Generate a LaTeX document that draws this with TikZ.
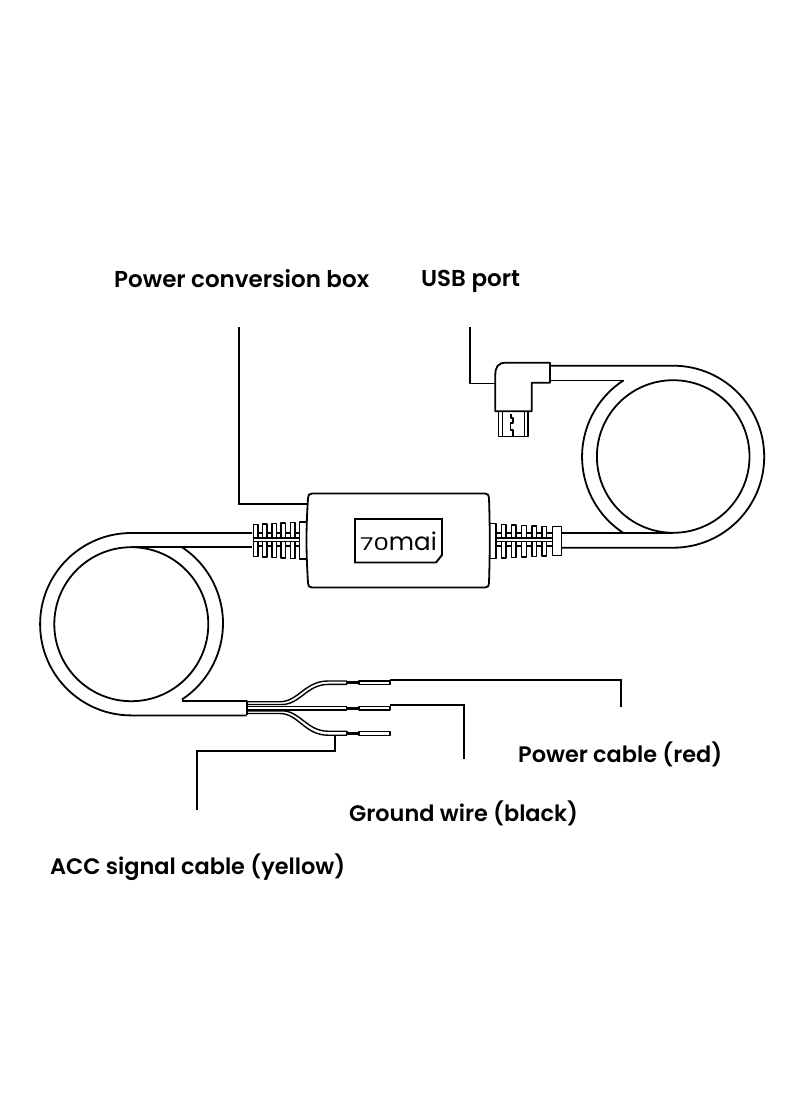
\documentclass[tikz,border=0pt]{standalone}
\usepackage{fontspec}
\setmainfont{Poppins}
\newfontfamily\lblf{Poppins SemiBold}
\tikzset{
 ln/.style={line width=1.8pt,black,line join=round},
 tl/.style={line width=1.4pt,black,line join=round},
 lead/.style={line width=1.6pt,black},
 lbl/.style={inner sep=0pt,anchor=base west,font=\fontsize{22.4}{26}\lblf},
 lblb/.style={inner sep=0pt,anchor=base west,font=\fontsize{23}{26}\lblf},
}
\begin{document}
\begin{tikzpicture}[x=1pt,y=-1pt]
\useasboundingbox (0,0) rectangle (800,1096);
\fill[white] (0,0) rectangle (800,1096);
% labels
\node[lblb] (tbox) at (114,287) {Power conversion box};
\node[lblb] (tusb) at (421,286) {USB port};
\node[lbl] (tpow) at (518,762) {Power cable (red)};
\node[lbl] (tgnd) at (349,821) {Ground wire (black)};
\node[lbl] (tacc) at (50,874) {ACC signal cable (yellow)};
% left coil
\draw[ln] (252,533) -- (131.3,533) arc[start angle=-90,end angle=-270,radius=91.2] -- (246.7,715.4);
\draw[ln] (131.3,624.2) ++(0,-77) arc[start angle=-90,end angle=270,radius=77];
\draw[ln] (131.3,547.2) -- (252,547.2);
\draw[ln] (182,547.2) arc[start angle=-56.6,end angle=56.6,radius=91.2];
\draw[ln] (182,701.2) -- (246.7,701.2) -- (246.7,715.4);
% right coil
\draw[ln] (551,365.7) -- (673.2,365.7) arc[start angle=-90,end angle=90,radius=91] -- (562,547.7);
\draw[ln] (673.2,456.5) ++(0,-76.3) arc[start angle=-90,end angle=270,radius=76.3];
\draw[ln] (551,380.4) -- (623.5,380.4);
\draw[ln] (623.5,380.4) arc[start angle=-123,end angle=-237,radius=91];
\draw[ln] (562,532.8) -- (673.2,532.8);
% strain reliefs
\def\rl{4.6}
\foreach \x/\t/\b in {253.3/524.5/556.5,262.5/524/557,271.8/523.5/557.5,281/523/558,290.2/522.5/558.5} {
  \draw[tl] (\x,538) -- (\x,\t) -- (\x+\rl,\t) -- (\x+\rl,538);
  \draw[tl] (\x+\rl,533) -- (\x+9.2,533);
  \draw[tl] (\x,541.5) -- (\x,\b) -- (\x+\rl,\b) -- (\x+\rl,541.5);
  \draw[tl] (\x+\rl,546) -- (\x+9.2,546);
}
\draw[tl] (253.3,538) -- (299.5,538) (253.3,541.5) -- (299.5,541.5) (253.3,538) -- (253.3,541.5);
\draw[tl] (299.5,541.5) -- (299.5,522) -- (306,522) (299.5,538) -- (299.5,559) -- (306.5,559);
\foreach \x/\t/\b in {501.2/524.5/558,511.4/525/557.5,521.6/525.5/557,531.8/526/556.5,542/526.5/556} {
  \draw[tl] (\x,538) -- (\x,\t) -- (\x+\rl,\t) -- (\x+\rl,538);
  \draw[tl] (\x+\rl,533) -- (\x+10.2,533);
  \draw[tl] (\x,541.5) -- (\x,\b) -- (\x+\rl,\b) -- (\x+\rl,541.5);
  \draw[tl] (\x+\rl,546) -- (\x+10.2,546);
}
\draw[tl] (490,523.5) -- (496,523.5) -- (496,538) (490,558.5) -- (496,558.5) -- (496,541.5);
\draw[tl] (496,533) -- (501.2,533) (496,546) -- (501.2,546);
\draw[tl] (496,538) -- (552.2,538) (496,541.5) -- (552.2,541.5) (496,538) -- (496,541.5);
\draw[tl] (552.2,541.5) -- (552.2,555.2) -- (561.7,555.2) -- (561.7,526.7) -- (552.2,526.7) -- (552.2,538) -- cycle;
% box
\draw[ln,fill=white] (312,493.5) -- (485,493.5) .. controls (488,493.5) and (489,495) .. (489,498)
  .. controls (490,530) and (490,550) .. (489,583) .. controls (489,586) and (488,587.5) .. (485,587.5)
  -- (312,587.5) .. controls (309,587.5) and (308,586) .. (308,583)
  .. controls (306,550) and (306,530) .. (308,498) .. controls (308,495) and (309,493.5) .. (312,493.5) -- cycle;
% logo
\draw[line width=1.9pt] (355,519) -- (442,519) -- (442,555) -- (436,562.5) -- (355,562.5) -- cycle;
\node[inner sep=0pt,anchor=base,font=\fontsize{24.5}{26}\selectfont] (logo) at (398.5,550) {\scalebox{1}[0.72]{70}mai};
% USB
\draw[ln] (550,362.7) -- (550,382.7) -- (531.7,382.7) -- (531.7,411.3) -- (495.3,411.3) -- (495.3,375)
  .. controls (495.3,367) and (498,362.7) .. (506,362.7) -- cycle;
\draw[tl] (498.7,411.3) -- (498.7,436.7) -- (528,436.7) -- (528,411.3);
\draw[tl] (502.3,411.3) -- (502.3,436.7);
\draw[tl] (524.3,411.3) -- (524.3,436.7);
\draw[tl] (511,414) -- (511,418) -- (513,418) -- (513,423) -- (510.5,423) -- (510.5,430) -- (513,430) -- (513,436.7);
% wires
\draw[tl] (246.7,701.7) -- (280,701.7) .. controls (298,701.7) and (305,681) .. (328,681) -- (347,681);
\draw[tl] (246.7,704.5) -- (282,704.5) .. controls (300,704.5) and (307,684.4) .. (328,684.4) -- (347,684.4);
\draw[tl] (246.7,706.5) -- (347,706.5) (246.7,710) -- (347,710);
\draw[tl] (246.7,710.8) -- (282,710.8) .. controls (300,710.8) and (307,731.2) .. (328,731.2) -- (347,731.2);
\draw[tl] (246.7,713.5) -- (280,713.5) .. controls (298,713.5) and (305,735.2) .. (328,735.2) -- (347,735.2);
\draw[tl] (347,681) -- (347,684.4) (347,706.5) -- (347,710) (347,731.2) -- (347,735.2);
\draw[line width=2.6pt] (347,682.7) -- (359,682.7) (347,708.2) -- (359,708.2) (347,733.2) -- (359,733.2);
\draw[tl] (359,680.8) rectangle (390,684.6);
\draw[tl] (359,706.3) rectangle (390,710.1);
\draw[tl] (359,731.3) rectangle (390,735.4);
% leaders
\coordinate (lb) at (239,327); \coordinate (lu) at (469.7,327);
\draw[lead] (lb) -- (239,504) -- (307,504);
\draw[lead] (lu) -- (469.7,383.3) -- (495.3,383.3);
\draw[lead] (390,680) -- (621,680) -- (621,707);
\draw[lead] (390,705) -- (464,705) -- (464,759);
\draw[lead] (335,735.4) -- (335,750.7) -- (197,750.7) -- (197,810);
\end{tikzpicture}
\end{document}
